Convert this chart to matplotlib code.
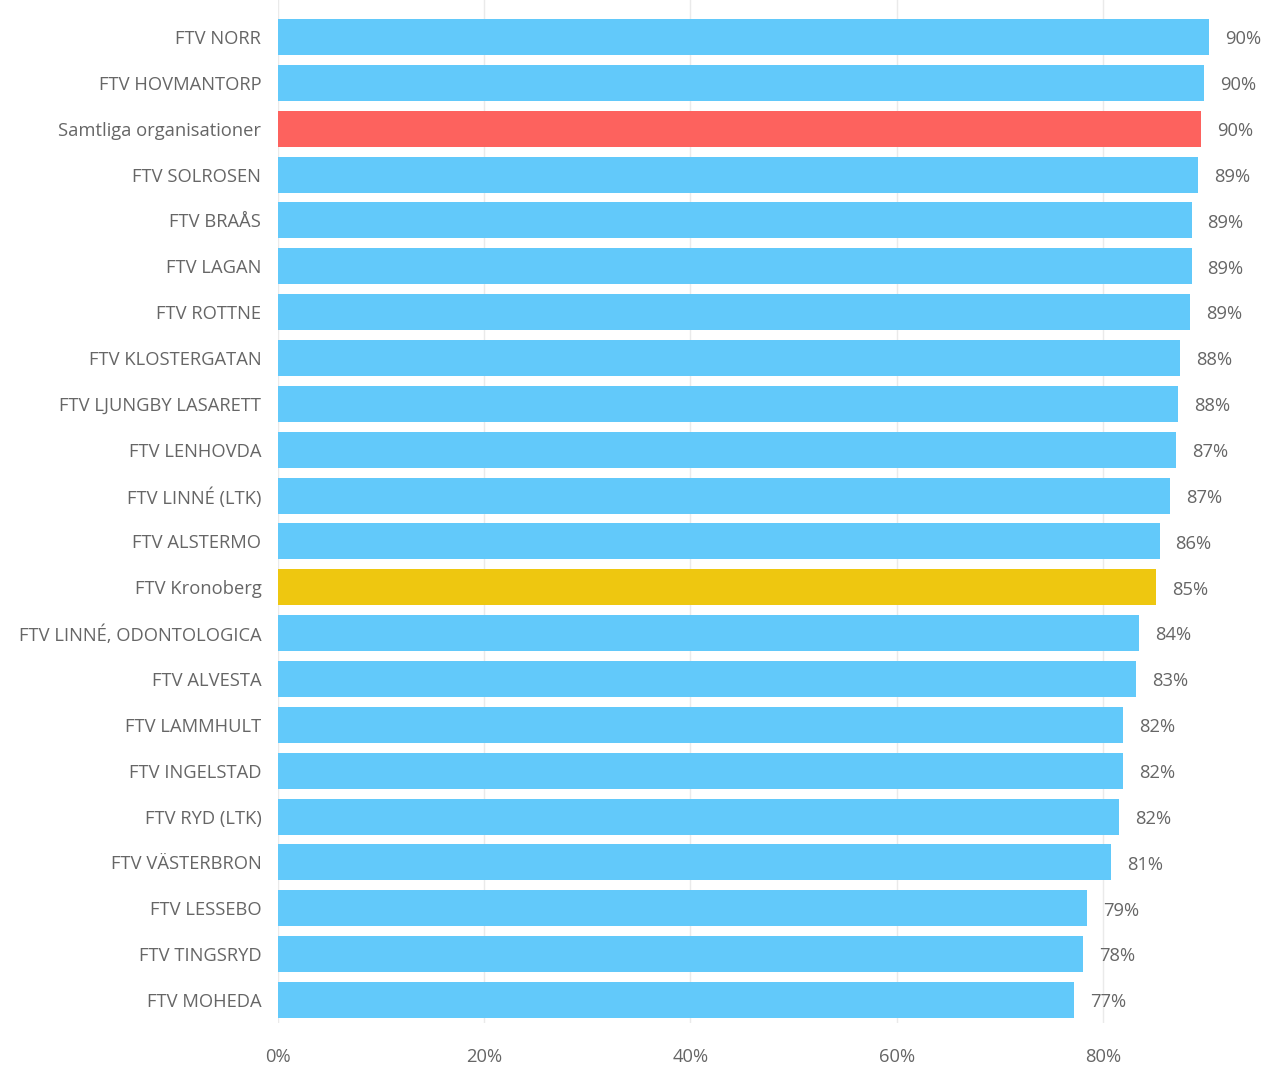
import numpy as np
import matplotlib.pyplot as plt
from matplotlib.ticker import FuncFormatter

plt.rcParams['font.family'] = ['Open Sans', 'DejaVu Sans']

# Data (percent)
kategorier = [
    "FTV NORR", "FTV HOVMANTORP", "Samtliga organisationer", "FTV SOLROSEN",
    "FTV BRAÅS", "FTV LAGAN", "FTV ROTTNE", "FTV KLOSTERGATAN",
    "FTV LJUNGBY LASARETT", "FTV LENHOVDA", "FTV LINNÉ (LTK)", "FTV ALSTERMO",
    "FTV Kronoberg", "FTV LINNÉ, ODONTOLOGICA", "FTV ALVESTA", "FTV LAMMHULT",
    "FTV INGELSTAD", "FTV RYD (LTK)", "FTV VÄSTERBRON", "FTV LESSEBO",
    "FTV TINGSRYD", "FTV MOHEDA",
]
varden = [90.3, 89.8, 89.5, 89.2, 88.6, 88.6, 88.5, 87.5, 87.3, 87.1, 86.5,
          85.5, 85.2, 83.5, 83.2, 82.0, 82.0, 81.6, 80.8, 78.5, 78.1, 77.2]
etiketter = ["90%", "90%", "90%", "89%", "89%", "89%", "89%", "88%", "88%",
             "87%", "87%", "86%", "85%", "84%", "83%", "82%", "82%", "82%",
             "81%", "79%", "78%", "77%"]

BLA = '#62C9FA'
ROD = '#FD625E'
GUL = '#EEC710'
TEXT = '#666666'

farger = []
for k in kategorier:
    if k == "Samtliga organisationer":
        farger.append(ROD)
    elif k == "FTV Kronoberg":
        farger.append(GUL)
    else:
        farger.append(BLA)

W, H = 1262, 1066
fig = plt.figure(figsize=(W / 100, H / 100), dpi=100)
# axes placed in pixel terms: x 0% at 278px, 95% at ~1257px; y from top 0 to 1023
ax = fig.add_axes([278 / W, 1 - 1023 / H, (1257.5 - 278) / W, 1023 / H])

y = np.arange(len(kategorier))
ax.barh(y, varden, height=0.785, color=farger, zorder=2)

for i, (v, lab) in enumerate(zip(varden, etiketter)):
    ax.text(v + 1.55, i + 0.05, lab, va='center', ha='left', fontsize=13.2,
            color=TEXT, clip_on=False)

ax.set_xlim(0, 95)
ax.set_ylim(len(kategorier) - 0.5, -0.805)
ax.set_yticks(y)
ax.set_yticklabels(kategorier, fontsize=13.2, color=TEXT)
ax.set_xticks([0, 20, 40, 60, 80])
ax.xaxis.set_major_formatter(FuncFormatter(lambda v, p: f"{int(v)}%"))
ax.tick_params(axis='x', labelsize=13.2, colors=TEXT, length=0, pad=18)
ax.tick_params(axis='y', length=0, pad=12)
ax.grid(axis='x', color='#EAEAEA', lw=1, zorder=0)
for s in ax.spines.values():
    s.set_visible(False)

fig.savefig('out.png', dpi=100, facecolor='white')
